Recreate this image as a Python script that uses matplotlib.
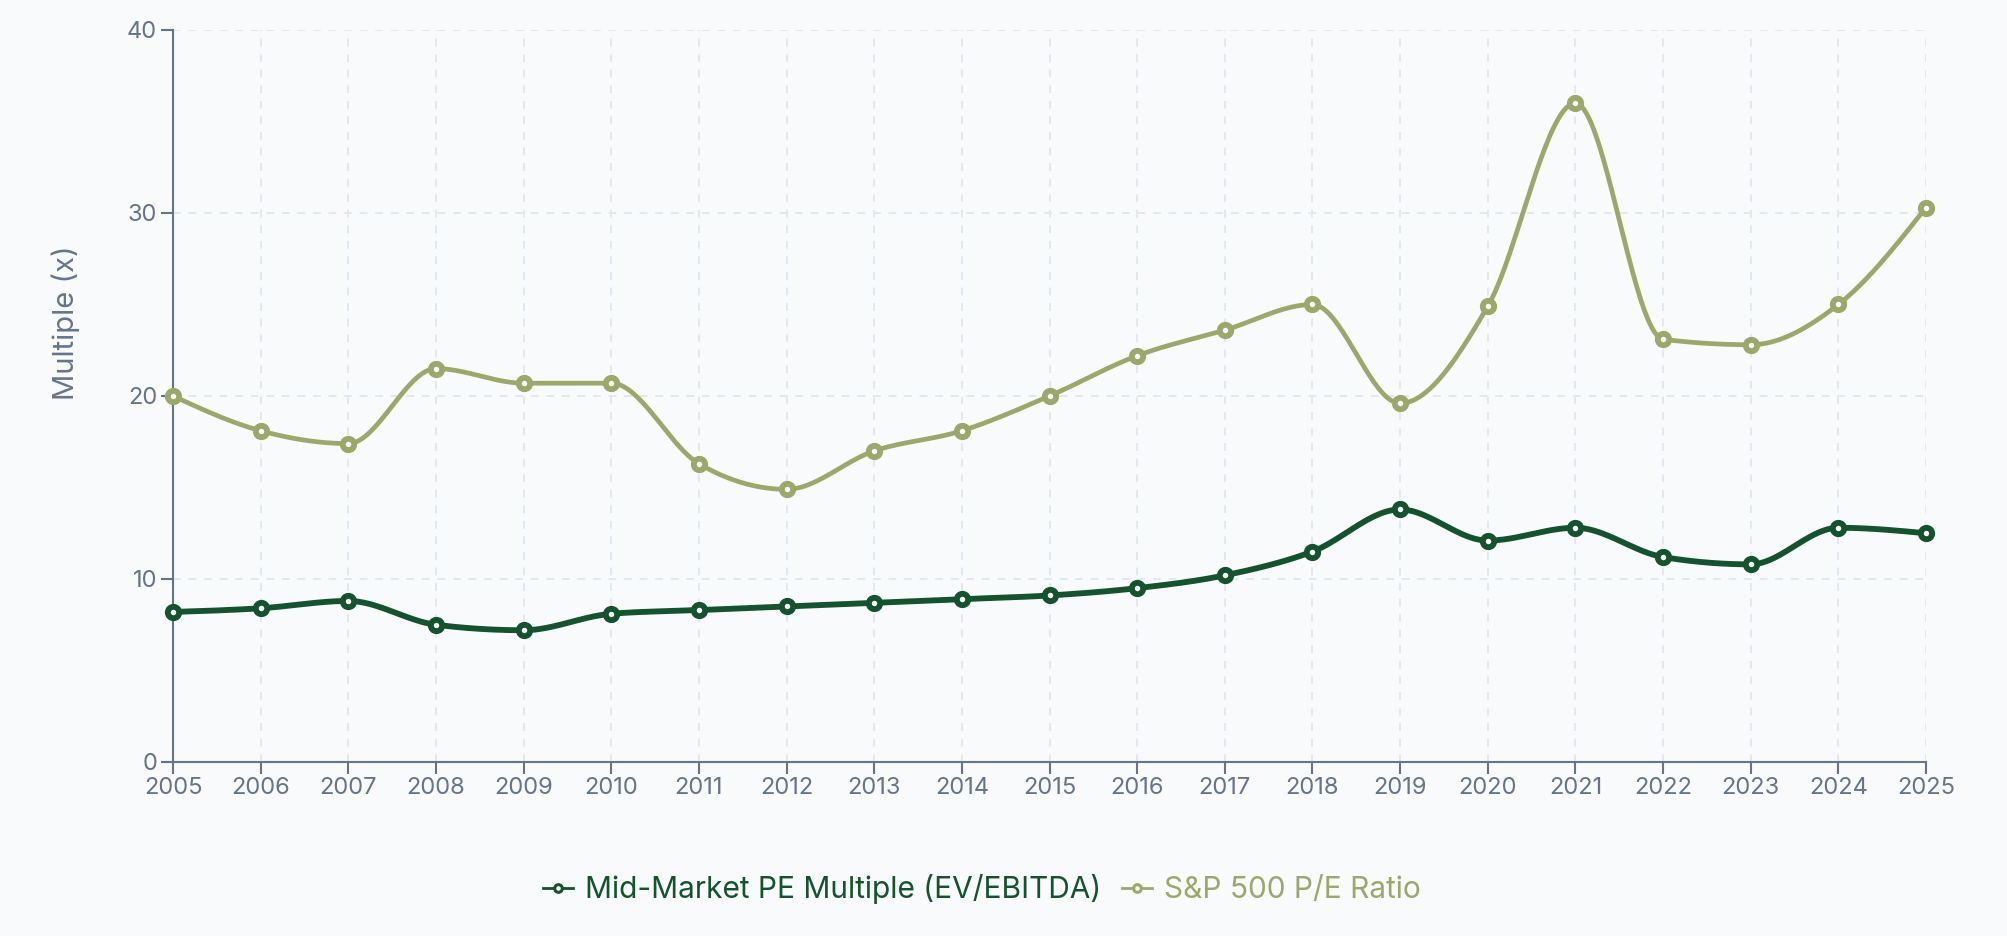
import numpy as np
import matplotlib
matplotlib.use("Agg")
import matplotlib.pyplot as plt
from matplotlib.lines import Line2D

plt.rcParams['font.family'] = ['Inter', 'DejaVu Sans']

years = [2005, 2006, 2007, 2008, 2009, 2010, 2011, 2012, 2013, 2014, 2015,
         2016, 2017, 2018, 2019, 2020, 2021, 2022, 2023, 2024, 2025]
mid_market = [8.2, 8.4, 8.8, 7.5, 7.2, 8.1, 8.3, 8.5, 8.7, 8.9, 9.1,
              9.5, 10.2, 11.5, 13.8, 12.1, 12.8, 11.2, 10.8, 12.8, 12.5]
sp500 = [20.0, 18.1, 17.4, 21.5, 20.7, 20.7, 16.3, 14.9, 17.0, 18.1, 20.0,
         22.2, 23.6, 25.0, 19.6, 24.9, 36.0, 23.1, 22.8, 25.0, 30.3]
series_names = ["Mid-Market PE Multiple (EV/EBITDA)", "S&P 500 P/E Ratio"]
y_ticks = [0, 10, 20, 30, 40]

DARK = "#14532d"
OLIVE = "#9ca86b"
AXIS = "#64748b"
GRID = "#e2e8f0"
BG = "#f8fafc"


def monotone_x(x, y, per=40):
    """Monotone cubic (Steffen / d3 curveMonotoneX) rendering of a line."""
    x = np.asarray(x, float)
    y = np.asarray(y, float)
    n = len(x)
    h = np.diff(x)
    s = np.diff(y) / h
    t = np.zeros(n)
    for i in range(1, n - 1):
        s0, s1 = s[i - 1], s[i]
        h0, h1 = h[i - 1], h[i]
        p = (s0 * h1 + s1 * h0) / (h0 + h1)
        t[i] = (np.sign(s0) + np.sign(s1)) * min(abs(s0), abs(s1), 0.5 * abs(p))
    t[0] = (3 * s[0] - t[1]) / 2
    t[-1] = (3 * s[-1] - t[-2]) / 2
    xs, ys = [], []
    for i in range(n - 1):
        u = np.linspace(0, 1, per, endpoint=(i == n - 2))
        h00 = 2 * u**3 - 3 * u**2 + 1
        h10 = u**3 - 2 * u**2 + u
        h01 = -2 * u**3 + 3 * u**2
        h11 = u**3 - u**2
        xs.append(x[i] + u * h[i])
        ys.append(h00 * y[i] + h10 * h[i] * t[i] + h01 * y[i + 1] + h11 * h[i] * t[i + 1])
    return np.concatenate(xs), np.concatenate(ys)


fig = plt.figure(figsize=(20.08, 9.36), dpi=100, facecolor=BG)
ax = fig.add_axes([0.08616, 0.18590, 0.87300, 0.78205])
ax.set_facecolor(BG)

ax.set_xlim(years[0], years[-1])
ax.set_ylim(0, 40)
ax.set_xticks(years)
ax.set_xticklabels([str(v) for v in years])
ax.set_yticks(y_ticks)

ax.grid(True, color=GRID, linestyle=(0, (4, 4)), linewidth=1.4, zorder=0)
ax.set_axisbelow(True)

for sp in ['top', 'right']:
    ax.spines[sp].set_visible(False)
for sp in ['left', 'bottom']:
    ax.spines[sp].set_color(AXIS)
    ax.spines[sp].set_linewidth(1.5)
    ax.spines[sp].set_zorder(1)

ax.tick_params(axis='both', colors=AXIS, labelcolor=AXIS, length=8.5, width=1.5,
               labelsize=17)
ax.tick_params(axis='x', pad=2)
ax.tick_params(axis='y', pad=3)

ax.set_ylabel("Multiple (x)", color=AXIS, fontsize=21)
ax.yaxis.set_label_coords(-0.053, 0.6)

for vals, col, lw in [(sp500, OLIVE, 3.4), (mid_market, DARK, 4.2)]:
    cx, cy = monotone_x(years, vals)
    ax.plot(cx, cy, color=col, linewidth=lw, solid_capstyle='round', zorder=3, clip_on=False)
    ax.plot(years, vals, linestyle='none', marker='o', markersize=8.2,
            markerfacecolor='white', markeredgecolor=col, markeredgewidth=4.2,
            zorder=4, clip_on=False)

handles = [
    Line2D([], [], color=DARK, linewidth=2.0, marker='o', markersize=5.5,
           markerfacecolor='white', markeredgecolor=DARK, markeredgewidth=2.2),
    Line2D([], [], color=OLIVE, linewidth=2.0, marker='o', markersize=5.5,
           markerfacecolor='white', markeredgecolor=OLIVE, markeredgewidth=2.2),
]
leg = fig.legend(handles, series_names, loc='center', bbox_to_anchor=(0.489, 0.050),
                 ncol=2, frameon=False, fontsize=21.5, handlelength=1.0,
                 handletextpad=0.4, columnspacing=0.7)
for txt, col in zip(leg.get_texts(), [DARK, OLIVE]):
    txt.set_color(col)

fig.savefig("out.png", dpi=100, facecolor=BG)
